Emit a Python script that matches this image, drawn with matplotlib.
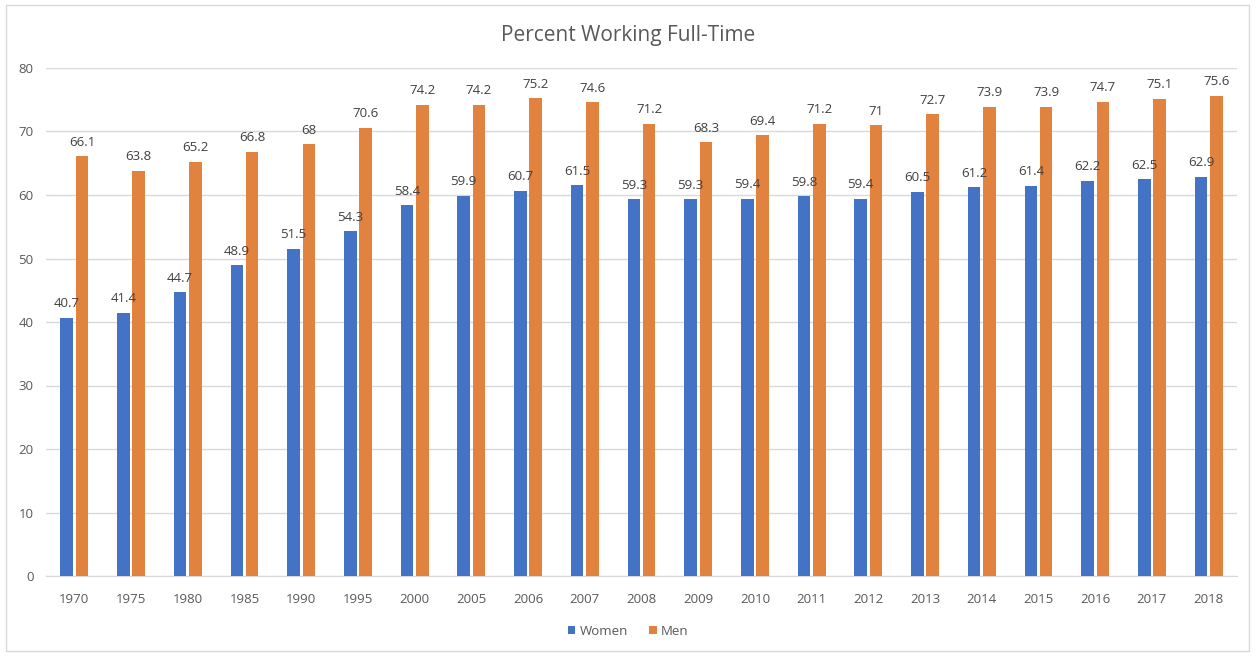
import matplotlib.pyplot as plt
import matplotlib.patches as mpatches
import numpy as np

years = ["1970", "1975", "1980", "1985", "1990", "1995", "2000", "2005", "2006", "2007",
         "2008", "2009", "2010", "2011", "2012", "2013", "2014", "2015", "2016", "2017", "2018"]
women = [40.7, 41.4, 44.7, 48.9, 51.5, 54.3, 58.4, 59.9, 60.7, 61.5,
         59.3, 59.3, 59.4, 59.8, 59.4, 60.5, 61.2, 61.4, 62.2, 62.5, 62.9]
men = [66.1, 63.8, 65.2, 66.8, 68, 70.6, 74.2, 74.2, 75.2, 74.6,
       71.2, 68.3, 69.4, 71.2, 71, 72.7, 73.9, 73.9, 74.7, 75.1, 75.6]

blue = "#4472C4"
orange = "#E2823F"

plt.rcParams['font.family'] = ['Open Sans', 'DejaVu Sans']

fig = plt.figure(figsize=(12.56, 6.56), dpi=100)
ax = fig.add_axes([46 / 1256, 1 - 576 / 656, 1191 / 1256, 508 / 656])

# chart border
fig.patches.append(mpatches.Rectangle((6 / 1256, 5 / 656), 1243 / 1256, 646 / 656,
                                      transform=fig.transFigure, fill=False,
                                      edgecolor="#D9D9D9", linewidth=1))

x = np.arange(len(years))
w = 0.22
gap = 0.05
b1 = ax.bar(x - w / 2 - gap / 2, women, w, color=blue, label="Women", zorder=3)
b2 = ax.bar(x + w / 2 + gap / 2, men, w, color=orange, label="Men", zorder=3)

for bars, vals in ((b1, women), (b2, men)):
    for r, v in zip(bars, vals):
        ax.text(r.get_x() + r.get_width() / 2, v + 1.2, "%g" % v, ha="center", va="bottom",
                fontsize=9.5, color="#404040")

ax.set_xlim(-0.5, len(years) - 0.5)
ax.set_ylim(0, 80)
ax.set_yticks(range(0, 81, 10))
ax.set_xticks(x)
ax.set_xticklabels(years)
ax.grid(axis="y", color="#D9D9D9", linewidth=1, zorder=0)
for s in ("top", "right", "left"):
    ax.spines[s].set_visible(False)
ax.spines["bottom"].set_color("#D9D9D9")
ax.tick_params(axis="both", length=0, labelsize=9.5, labelcolor="#595959")
ax.tick_params(axis="x", pad=12)
ax.tick_params(axis="y", pad=9)

fig.text(0.5, 0.946, "Percent Working Full-Time", ha="center", va="center",
         fontsize=15, color="#595959")

fig.legend(handles=[b1, b2], loc="center", bbox_to_anchor=(0.5, 0.038), ncol=2,
           frameon=False, fontsize=9.5, handlelength=0.6, handleheight=0.6,
           handletextpad=0.3, columnspacing=1.6, labelcolor="#595959")

fig.savefig("out.png", dpi=100)
